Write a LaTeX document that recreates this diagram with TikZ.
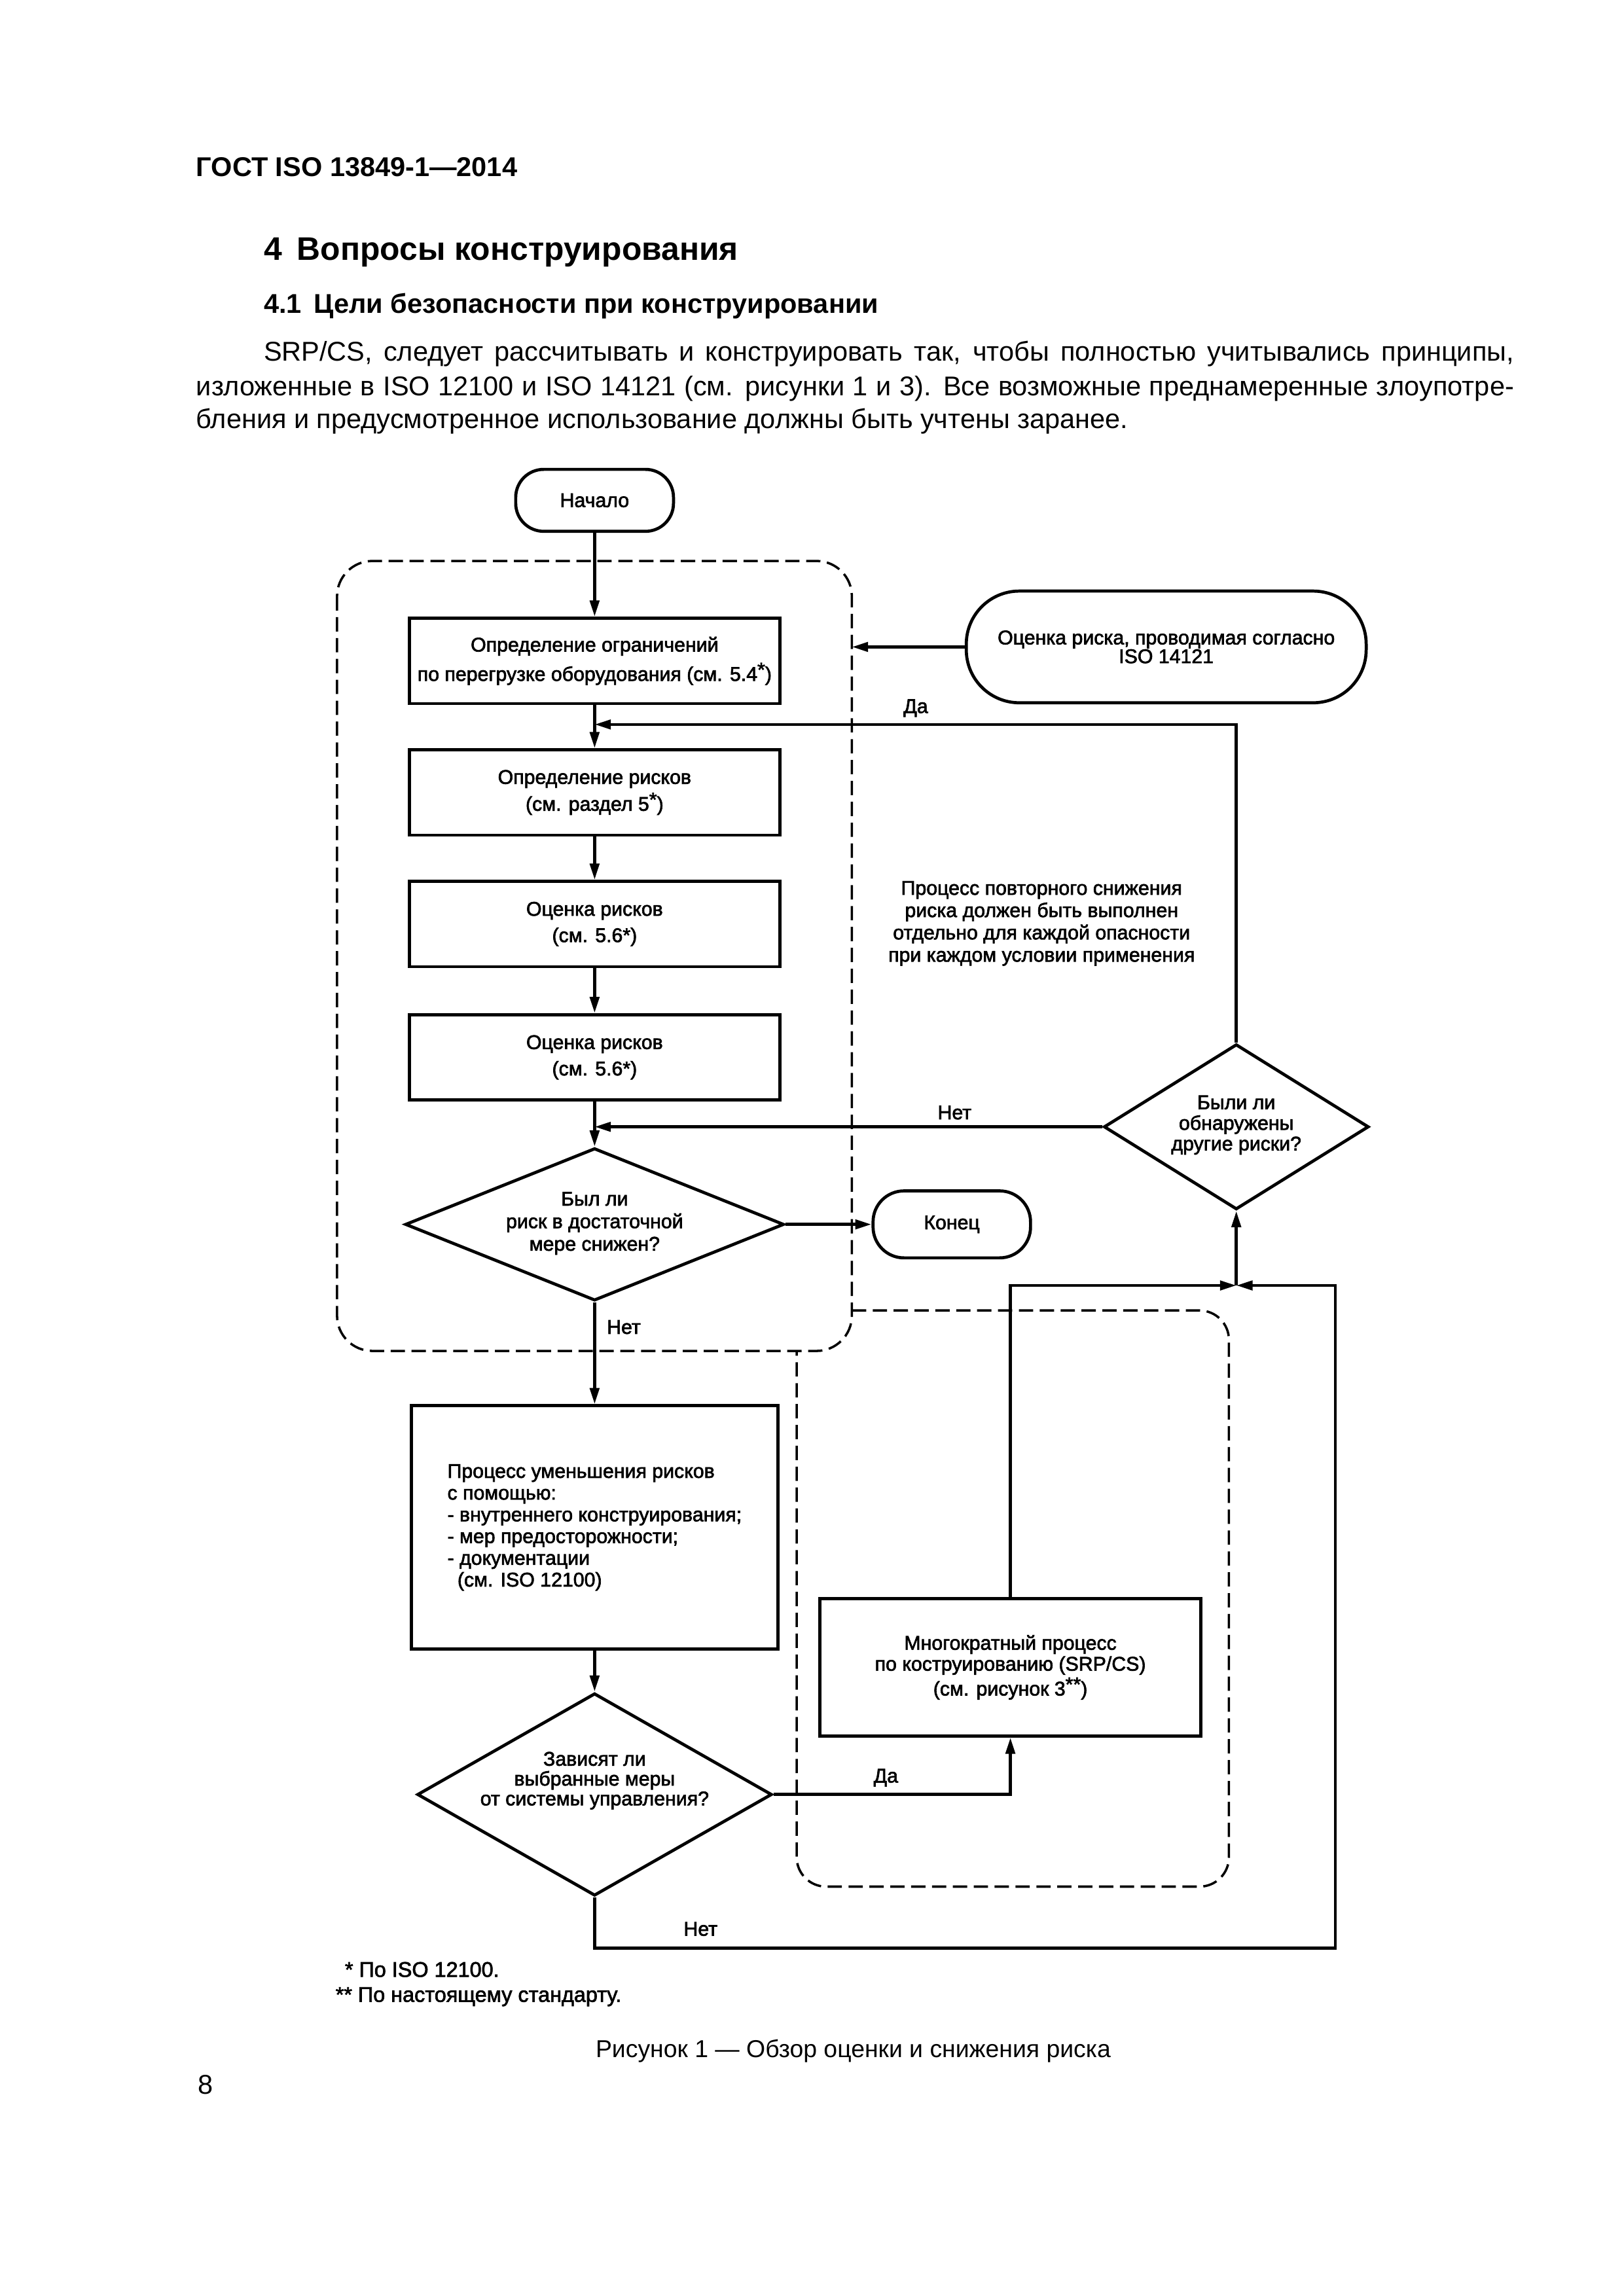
\documentclass[tikz,border=0pt]{standalone}
\usepackage{fontspec}
\setmainfont{Liberation Sans}
\newfontface\dgf{Liberation Sans}[FakeBold=2.2]
\usetikzlibrary{arrows.meta,shapes.geometric}
\def\dU{0.19039mm}
\newcommand\dz[1]{\dgf\fontsize{7.3pt}{#1pt}\selectfont}
\newcommand\bodyf{\fontsize{10pt}{12pt}\selectfont}
\newcommand\sast[1]{\raisebox{0.22em}{#1}}
\begin{document}
\begin{tikzpicture}[x=0.19039mm,y=-0.19039mm,
 box/.style={draw, line width=0.4mm, minimum width=251.7*\dU, minimum height=58*\dU, inner sep=0pt, align=center},
 term/.style={draw, line width=0.4mm, inner sep=0pt, align=center},
 dia/.style={draw, diamond, line width=0.4mm, inner sep=0pt},
 lbl/.style={inner sep=0pt, align=center, font=\dz{8}},
 txt/.style={inner sep=0pt, anchor=base west},
 arr/.style={line width=0.4mm, -{Triangle[length=2.1mm,width=1.2mm]}},
 dbox/.style={line width=0.3mm, dash pattern=on 1.85mm off 0.85mm}]
\fill[white] (0,0) rectangle (1103,1560.2);
\useasboundingbox (0,0) rectangle (1103,1560.2);

% page text
\node[txt, font=\bfseries\fontsize{10pt}{12pt}\selectfont] (hdr) at (133,120) {ГОСТ ISO 13849-1—2014};
\node[txt, font=\bfseries\fontsize{12pt}{14pt}\selectfont] (sec) at (179,177) {4\hspace{5.5pt}Вопросы конструирования};
\node[txt, font=\bfseries\fontsize{10pt}{12pt}\selectfont] (sub) at (179,212.6) {4.1\hspace{4.5pt}Цели безопасности при конструировании};
\node[txt, font=\bodyf] (p1) at (178.9,245.3) {\makebox[161.72mm][s]{SRP/CS, следует рассчитывать и конструировать так, чтобы полностью учитывались принципы,}};
\node[txt, font=\bodyf] (p2) at (133,269) {\makebox[170.46mm][s]{изложенные в ISO 12100 и ISO 14121 (см. рисунки 1 и 3). Все возможные преднамеренные злоупотре-}};
\node[txt, font=\bodyf] (p3) at (133,291.2) {бления и предусмотренное использование должны быть учтены заранее.};

% dashed groups
\draw[dbox, rounded corners=24*\dU] (229,381.2) rectangle (578.8,918);
\draw[dbox, rounded corners=20*\dU] (578.8,890.5) -- (835,890.5) -- (835,1282) -- (541.3,1282) -- (541.3,918);

% nodes
\node[term, minimum width=107.2*\dU, minimum height=42.1*\dU, rounded corners=19*\dU, font=\dz{8}] (start) at (404,340) {Начало};
\node[box, font=\dz{10.8}] (b1) at (404,449.1) {Определение ограничений\\по перегрузке оборудования (см. 5.4\sast{*})};
\node[box, font=\dz{9.9}] (b2) at (404,538.5) {Определение рисков\\(см. раздел 5\sast{*})};
\node[box, font=\dz{9.7}] (b3) at (404,627.9) {Оценка рисков\\(см. 5.6*)};
\node[box, font=\dz{9.7}] (b4) at (404,718.5) {Оценка рисков\\(см. 5.6*)};
\node[dia, minimum width=257.4*\dU, minimum height=103.6*\dU] (r1) at (404,832) {};
\node[lbl, font=\dz{8.3}] (r1t) at (404,831.3) {Был ли\\риск в достаточной\\мере снижен?};
\node[term, minimum width=107*\dU, minimum height=45.5*\dU, rounded corners=21*\dU, font=\dz{8}] (end) at (646.7,832) {Конец};
\node[term, minimum width=271.7*\dU, minimum height=75.9*\dU, rounded corners=36*\dU, font=\dz{6.9}] (t2) at (792.4,439.6) {Оценка риска, проводимая согласно\\ISO 14121};
\node[lbl, font=\dz{8.2}] (note) at (707.7,627.5) {Процесс повторного снижения\\риска должен быть выполнен\\отдельно для каждой опасности\\при каждом условии применения};
\node[dia, minimum width=180*\dU, minimum height=112.3*\dU] (r2) at (840,765.7) {};
\node[lbl, font=\dz{7.6}] (r2t) at (840,764.5) {Были ли\\обнаружены\\другие риски?};
\node[box, minimum width=249*\dU, minimum height=165.3*\dU, align=left, font=\dz{8}] (b5) at (404,1037.9) {Процесс уменьшения рисков\\с помощью:\\- внутреннего конструирования;\\- мер предосторожности;\\- документации\\\hspace*{1.3mm}(см. ISO 12100)};
\node[dia, minimum width=241*\dU, minimum height=137.6*\dU] (r3) at (404,1219.4) {};
\node[lbl, font=\dz{7.3}] (r3t) at (404,1210) {Зависят ли\\выбранные меры\\от системы управления?};
\node[box, minimum width=258.6*\dU, minimum height=93.3*\dU, font=\dz{7.7}] (b6) at (686.5,1133) {Многократный процесс\\по коструированию (SRP/CS)\\(см. рисунок 3\sast{**})};

% labels
\node[lbl] (l1) at (622.2,481.2) {Да};
\node[lbl] (l2) at (648.6,756) {Нет};
\node[lbl, anchor=west] (l3) at (412,901.8) {Нет};
\node[lbl] (l4) at (601.9,1208) {Да};
\node[lbl] (l5) at (476,1310.8) {Нет};

% connector helper points
\coordinate (da) at (404,492.3);
\coordinate (jn) at (840,873.5);
\coordinate (bl) at (907.3,1323.7);
\coordinate (d1) at (578.8,439.6);

% connectors
\draw[arr] (start.south) -- (b1.north);
\draw[arr] (b1.south) -- (b2.north);
\draw[arr] (r2.north) |- (da);
\draw[arr] (t2.west) -- (d1);
\draw[arr] (b2.south) -- (b3.north);
\draw[arr] (b3.south) -- (b4.north);
\draw[arr] (b4.south) -- (r1.north);
\draw[arr] (r2.west) -- (r2.west -| b4.south);
\draw[arr] (r1.east) -- (end.west);
\draw[arr] (r1.south) -- (b5.north);
\draw[arr] (b5.south) -- (r3.north);
\draw[arr] (r3.east) -| (b6.south);
\draw[arr] (b6.north) |- (jn);
\draw[arr] (r3.south) |- (bl) |- (jn);
\draw[arr] (jn) -- (r2.south);

% footnotes, caption, page number
\node[txt, font=\dgf\fontsize{7.8pt}{9pt}\selectfont] (fn1) at (234,1343.3) {* По ISO 12100.};
\node[txt, font=\dgf\fontsize{7.8pt}{9pt}\selectfont] (fn2) at (227.7,1360.3) {** По настоящему стандарту.};
\node[inner sep=0pt, anchor=base, font=\fontsize{9pt}{11pt}\selectfont] (cap) at (579.7,1398) {Рисунок 1 — Обзор оценки и снижения риска};
\node[txt, font=\fontsize{10pt}{12pt}\selectfont] (pg) at (134,1423) {8};
\end{tikzpicture}
\end{document}
